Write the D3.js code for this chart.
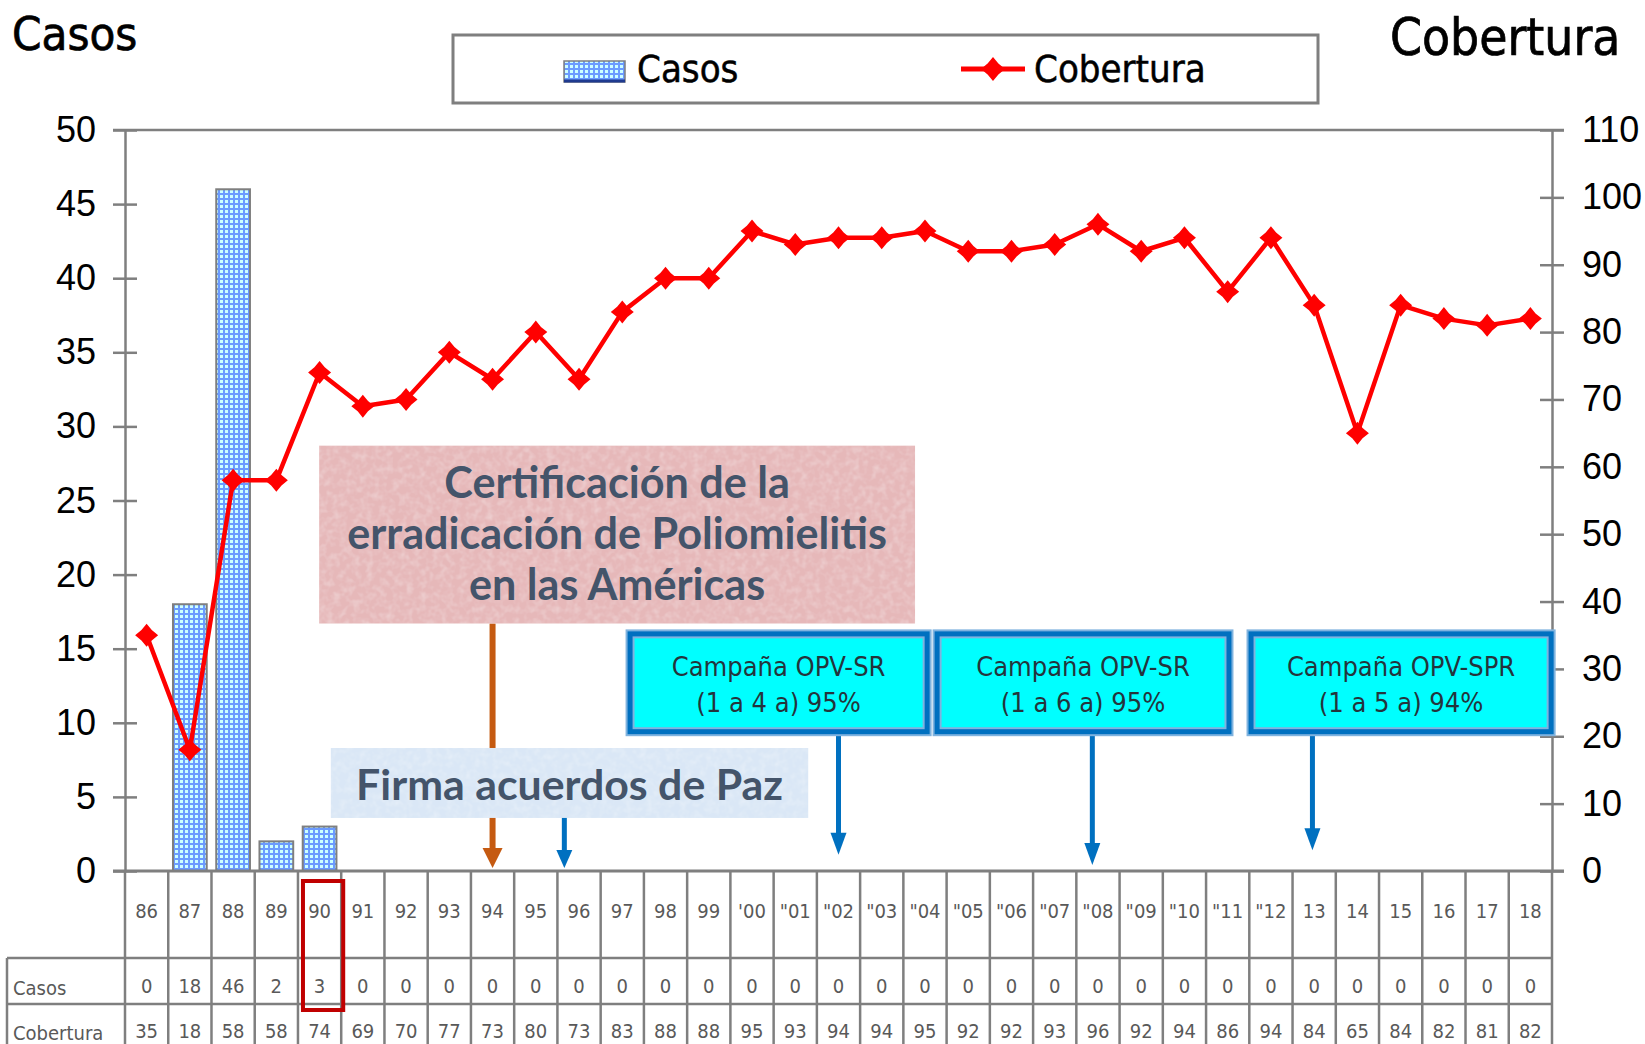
<!DOCTYPE html>
<html>
<head>
<meta charset="utf-8">
<script src="https://d3js.org/d3.v7.min.js"></script>
<style>
  body { margin: 0; background: #fff; }
  svg { display: block; }
</style>
</head>
<body>
<div id="chart"></div>
<script>
// data
const years = ["86", "87", "88", "89", "90", "91", "92", "93", "94", "95", "96", "97", "98", "99",
  "'00", "\"01", "\"02", "\"03", "\"04", "\"05", "\"06", "\"07", "\"08", "\"09", "\"10", "\"11", "\"12",
  "13", "14", "15", "16", "17", "18"];
const casos = [0, 18, 46, 2, 3, 0, 0, 0, 0, 0, 0, 0, 0, 0, 0, 0, 0, 0, 0, 0, 0, 0, 0, 0, 0, 0, 0,
  0, 0, 0, 0, 0, 0];
const cobertura = [35, 18, 58, 58, 74, 69, 70, 77, 73, 80, 73, 83, 88, 88, 95, 93, 94, 94, 95, 92,
  92, 93, 96, 92, 94, 86, 94, 84, 65, 84, 82, 81, 82];
const casosTicks = d3.range(0, 51, 5);
const coberturaTicks = d3.range(0, 111, 10);
const highlightYear = "90";
const rowNames = ["Casos", "Cobertura"];

// notes on the chart: positions are in category units (x) and Casos units (y)
const certNote = { lines: ["Certificación de la", "erradicación de Poliomielitis", "en las Américas"], x0: 4.49, x1: 18.27, y0: 28.7, y1: 16.7, arrowAt: 8.5, arrowTo: 0.2 };
const pazNote = { text: "Firma acuerdos de Paz", x0: 4.76, x1: 15.8, y0: 8.3, y1: 3.58, arrowAt: 10.16, arrowTo: 0.2 };
const campaigns = [
  { lines: ["Campaña OPV-SR", "(1 a 4 a) 95%"], x0: 11.68, x1: 18.55, arrowAt: 16.5, arrowTo: 1.1 },
  { lines: ["Campaña OPV-SR", "(1 a 6 a) 95%"], x0: 18.78, x1: 25.53, arrowAt: 22.37, arrowTo: 0.4 },
  { lines: ["Campaña OPV-SPR", "(1 a 5 a) 94%"], x0: 26.04, x1: 32.98, arrowAt: 27.46, arrowTo: 1.4 }
];
const campaignTop = 16.0, campaignBottom = 9.4;

const W = 1645, H = 1044;
const mLeft = 125, mRight = 1552, mTop = 130, mBottom = 871;
const gray = "#7f7f7f";
const condensed = "'DejaVu Sans Condensed', 'DejaVu Sans', sans-serif";

const svg = d3.select("#chart").append("svg")
  .attr("width", W).attr("height", H);

const defs = svg.append("defs");
const pat = defs.append("pattern").attr("id", "grid")
  .attr("patternUnits", "userSpaceOnUse").attr("width", 5).attr("height", 5);
pat.append("rect").attr("width", 5).attr("height", 5).attr("fill", "#6b9bff");
pat.append("rect").attr("width", 3).attr("height", 3).attr("fill", "#ccffff");

const noise = defs.append("filter").attr("id", "noise").attr("x", 0).attr("y", 0).attr("width", 1).attr("height", 1);
noise.append("feTurbulence").attr("type", "fractalNoise").attr("baseFrequency", 0.15)
  .attr("numOctaves", 2).attr("seed", 4).attr("result", "n");
noise.append("feColorMatrix").attr("in", "n").attr("type", "matrix")
  .attr("values", "0 0 0 0 1  0 0 0 0 1  0 0 0 0 1  0 0 0 -0.5 0.3").attr("result", "nc");
noise.append("feComposite").attr("in", "nc").attr("in2", "SourceGraphic").attr("operator", "in").attr("result", "t");
const nm = noise.append("feMerge");
nm.append("feMergeNode").attr("in", "SourceGraphic");
nm.append("feMergeNode").attr("in", "t");

// scales
const x = d3.scaleBand().domain(years).range([mLeft, mRight]).padding(0);
const bw = x.bandwidth();
const u = d3.scaleLinear().domain([0, years.length]).range([mLeft, mRight]);
const yCasos = d3.scaleLinear().domain([0, 50]).range([mBottom, mTop]);
const yCob = d3.scaleLinear().domain([0, 110]).range([mBottom, mTop]);

// titles
svg.append("text").attr("x", 12).attr("y", 50).text("Casos")
  .style("font-family", condensed).style("font-size", "47px")
  .attr("fill", "#000").attr("stroke", "#000").attr("stroke-width", 0.7);
svg.append("text").attr("x", 1390).attr("y", 55).text("Cobertura")
  .style("font-family", condensed).style("font-size", "51px")
  .attr("fill", "#000").attr("stroke", "#000").attr("stroke-width", 0.7);

// bars
svg.append("g").selectAll("rect")
  .data(years.map((yr, i) => ({ yr, v: casos[i] })).filter(d => d.v > 0))
  .join("rect")
  .attr("x", d => x(d.yr) + bw * 0.11)
  .attr("width", bw * 0.78)
  .attr("y", d => yCasos(d.v))
  .attr("height", d => yCasos(0) - yCasos(d.v))
  .attr("fill", "url(#grid)")
  .attr("stroke", gray).attr("stroke-width", 2);

// axes
const axL = svg.append("g").attr("transform", `translate(${mLeft},0)`)
  .call(d3.axisLeft(yCasos).tickValues(casosTicks).tickSize(12).tickSizeOuter(0).tickPadding(17));
const axR = svg.append("g").attr("transform", `translate(${mRight},0)`)
  .call(d3.axisRight(yCob).tickValues(coberturaTicks).tickSize(12).tickSizeOuter(0).tickPadding(18));
[axL, axR].forEach(ax => {
  ax.select(".domain").attr("stroke", gray).attr("stroke-width", 2.5);
  ax.selectAll(".tick line").attr("x1", -12).attr("x2", 12).attr("stroke", gray).attr("stroke-width", 2.5);
  ax.selectAll(".tick text").attr("fill", "#000")
    .style("font-family", "'Liberation Sans', Arial, sans-serif").style("font-size", "36px");
});
svg.append("line").attr("x1", mLeft - 12).attr("x2", mRight + 12)
  .attr("y1", yCasos(50)).attr("y2", yCasos(50)).attr("stroke", gray).attr("stroke-width", 2.5);
svg.append("line").attr("x1", mLeft - 12).attr("x2", mRight + 12)
  .attr("y1", yCasos(0)).attr("y2", yCasos(0)).attr("stroke", gray).attr("stroke-width", 3);

// data table under the axis
const rowY = [mBottom, 958, 1004, H];
const table = svg.append("g");
table.selectAll("line.v")
  .data(years.map(yr => x(yr)).concat([mRight]))
  .join("line")
  .attr("x1", d => d).attr("x2", d => d)
  .attr("y1", mBottom).attr("y2", H)
  .attr("stroke", gray).attr("stroke-width", 2.5);
table.selectAll("line.h")
  .data([rowY[1], rowY[2]])
  .join("line")
  .attr("x1", 7).attr("x2", mRight)
  .attr("y1", d => d).attr("y2", d => d)
  .attr("stroke", gray).attr("stroke-width", 2.5);
table.append("line").attr("x1", 7).attr("x2", 7).attr("y1", rowY[1]).attr("y2", H)
  .attr("stroke", gray).attr("stroke-width", 2.5);

const cellText = (sel) => sel.style("font-family", condensed).style("font-size", "20px").attr("fill", "#595959");
table.selectAll("text.yr").data(years).join("text")
  .attr("x", d => x(d) + bw / 2).attr("y", 918).attr("text-anchor", "middle").text(d => d).call(cellText);
table.selectAll("text.ca").data(casos).join("text")
  .attr("x", (d, i) => x(years[i]) + bw / 2).attr("y", 993).attr("text-anchor", "middle").text(d => d).call(cellText);
table.selectAll("text.co").data(cobertura).join("text")
  .attr("x", (d, i) => x(years[i]) + bw / 2).attr("y", 1038).attr("text-anchor", "middle").text(d => d).call(cellText);
table.selectAll("text.rn").data(rowNames).join("text")
  .attr("x", 13).attr("y", (d, i) => i ? 1040 : 995).text(d => d).call(cellText);

table.append("rect")
  .attr("x", x(highlightYear) + 5).attr("width", bw - 3)
  .attr("y", 881).attr("height", 1010 - 881)
  .attr("fill", "none").attr("stroke", "#c00000").attr("stroke-width", 4);

// coverage line
const star = (r) => {
  const k = r * 0.45;
  return `M0,${-r}L${k},${-k}L${r},0L${k},${k}L0,${r}L${-k},${k}L${-r},0L${-k},${-k}Z`;
};
svg.append("path")
  .datum(cobertura)
  .attr("fill", "none").attr("stroke", "#ff0000").attr("stroke-width", 4.5)
  .attr("stroke-linejoin", "round")
  .attr("d", d3.line().x((d, i) => x(years[i]) + bw / 2).y(d => yCob(d)));
svg.append("g").selectAll("path").data(cobertura).join("path")
  .attr("transform", (d, i) => `translate(${x(years[i]) + bw / 2},${yCob(d)})`)
  .attr("d", star(11.5)).attr("fill", "#ff0000");

// legend
svg.append("rect").attr("x", 453).attr("y", 35).attr("width", 865).attr("height", 68)
  .attr("fill", "#fff").attr("stroke", gray).attr("stroke-width", 3);
svg.append("rect").attr("x", 564).attr("y", 61).attr("width", 61).attr("height", 21)
  .attr("fill", "url(#grid)").attr("stroke", gray).attr("stroke-width", 1.5);
svg.append("line").attr("x1", 564).attr("x2", 625).attr("y1", 81).attr("y2", 81)
  .attr("stroke", "#1f3a8f").attr("stroke-width", 3);
svg.append("text").attr("x", 637).attr("y", 82).text("Casos")
  .style("font-family", condensed).style("font-size", "38px")
  .attr("fill", "#000").attr("stroke", "#000").attr("stroke-width", 0.5);
svg.append("line").attr("x1", 961).attr("x2", 1025).attr("y1", 69).attr("y2", 69)
  .attr("stroke", "#ff0000").attr("stroke-width", 5);
svg.append("path").attr("transform", "translate(993,69)").attr("d", star(12)).attr("fill", "#ff0000");
svg.append("text").attr("x", 1034).attr("y", 82).text("Cobertura")
  .style("font-family", condensed).style("font-size", "38px")
  .attr("fill", "#000").attr("stroke", "#000").attr("stroke-width", 0.5);

// arrows
function arrow(g, cx, y1, y2, color, w, headW, headH) {
  g.append("line").attr("x1", cx).attr("x2", cx).attr("y1", y1).attr("y2", y2 - headH + 2)
    .attr("stroke", color).attr("stroke-width", w);
  g.append("path").attr("d", `M${cx - headW / 2},${y2 - headH}L${cx + headW / 2},${y2 - headH}L${cx},${y2}Z`)
    .attr("fill", color);
}
const notes = svg.append("g");

// fit font size of a block of lines to a width
function fit(sel, width) {
  let w = 0;
  sel.each(function () { w = Math.max(w, this.getComputedTextLength()); });
  const fs = parseFloat(sel.style("font-size"));
  sel.style("font-size", (fs * width / w) + "px");
}

// certification note
arrow(notes, u(certNote.arrowAt), yCasos(certNote.y1), yCasos(certNote.arrowTo), "#c55a11", 6, 20, 20);
notes.append("rect")
  .attr("x", u(certNote.x0)).attr("width", u(certNote.x1) - u(certNote.x0))
  .attr("y", yCasos(certNote.y0)).attr("height", yCasos(certNote.y1) - yCasos(certNote.y0))
  .attr("fill", "#e6b8b9").attr("filter", "url(#noise)");
const certText = notes.selectAll("text.cert").data(certNote.lines).join("text")
  .attr("x", (u(certNote.x0) + u(certNote.x1)) / 2)
  .attr("y", (d, i) => yCasos(certNote.y0) + 52 + i * 51)
  .attr("text-anchor", "middle").text(d => d)
  .style("font-family", "Lato, 'Open Sans', sans-serif").style("font-weight", "bold")
  .style("font-size", "40px").attr("fill", "#44546a");
fit(certText, 540);

// peace note
notes.append("rect")
  .attr("x", u(pazNote.x0)).attr("width", u(pazNote.x1) - u(pazNote.x0))
  .attr("y", yCasos(pazNote.y0)).attr("height", yCasos(pazNote.y1) - yCasos(pazNote.y0))
  .attr("fill", "#dae7f6").attr("filter", "url(#noise)");
const pazText = notes.append("text")
  .attr("x", (u(pazNote.x0) + u(pazNote.x1)) / 2).attr("y", yCasos(pazNote.y0) + 52)
  .attr("text-anchor", "middle").text(pazNote.text)
  .style("font-family", "Lato, 'Open Sans', sans-serif").style("font-weight", "bold")
  .style("font-size", "40px").attr("fill", "#44546a");
fit(pazText, 427);
arrow(notes, u(pazNote.arrowAt), yCasos(pazNote.y1), yCasos(pazNote.arrowTo), "#0070c0", 5, 16, 18);

// campaign boxes
campaigns.forEach((c, k) => {
  const bx = u(c.x0), bx1 = u(c.x1), by = yCasos(campaignTop), by1 = yCasos(campaignBottom);
  arrow(notes, u(c.arrowAt), by1, yCasos(c.arrowTo), "#0070c0", 5, 16, 22);
  notes.append("rect").attr("x", bx).attr("y", by).attr("width", bx1 - bx).attr("height", by1 - by)
    .attr("fill", "#00ffff").attr("stroke", "#7fb3df").attr("stroke-width", 9);
  notes.append("rect").attr("x", bx).attr("y", by).attr("width", bx1 - bx).attr("height", by1 - by)
    .attr("fill", "none").attr("stroke", "#0070c0").attr("stroke-width", 5);
  notes.selectAll("text.c" + k).data(c.lines).join("text")
    .attr("x", (bx + bx1) / 2).attr("y", (d, i) => by + 42 + i * 36)
    .attr("text-anchor", "middle").text(d => d)
    .style("font-family", condensed).style("font-size", "27px").attr("fill", "#24343c");
});
</script>
</body>
</html>
